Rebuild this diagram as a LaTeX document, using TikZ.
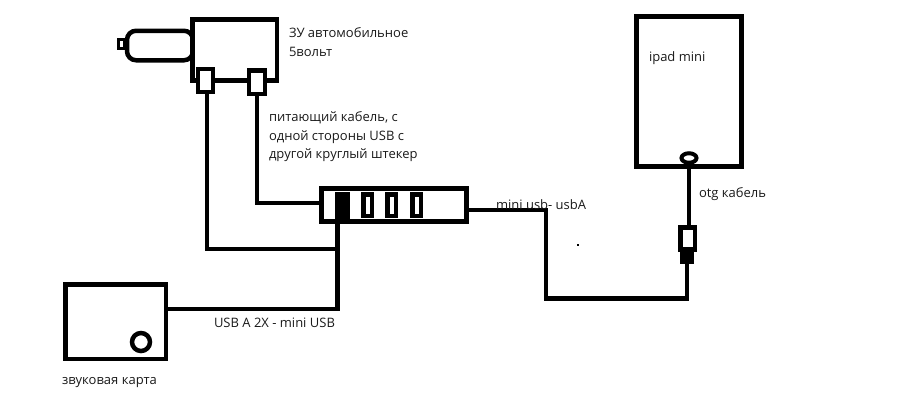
\documentclass[tikz,border=0pt]{standalone}
\usepackage{fontspec}
\usetikzlibrary{shapes.geometric}
\setmainfont{Open Sans}
\definecolor{ink}{HTML}{000000}
\definecolor{txt}{HTML}{1A1A1A}
\tikzset{
  x=1pt,y=-1pt,
  box/.style={draw=ink,line width=4.5pt,fill=white,rectangle,inner sep=0pt,outer sep=0pt},
  thinbox/.style={draw=ink,line width=4.5pt,fill=white,rectangle,inner sep=0pt,outer sep=0pt},
  cable/.style={draw=ink,line width=4.3pt,line cap=rect,line join=miter},
  label/.style={anchor=base west,inner sep=0pt,outer sep=0pt,text=txt,font=\fontsize{13pt}{15pt}\selectfont},
}
\begin{document}
\begin{tikzpicture}
\useasboundingbox (0,0) rectangle (901,400);
\fill[white] (0,0) rectangle (901,400);
% plug of the car charger
\node[thinbox,rounded corners=9pt,minimum width=66pt,minimum height=29.5pt] (plug) at (160,45.5) {};
\node[draw=ink,line width=2.6pt,fill=white,inner sep=0pt,outer sep=0pt,minimum width=6.5pt,minimum height=9pt] (tip) at (121.5,44) {};
% charger
\node[box,minimum width=84.5pt,minimum height=61pt] (charger) at (234.7,50) {};
\node[thinbox,minimum width=15pt,minimum height=23pt] (usbL) at (205.5,80.5) {};
\node[thinbox,minimum width=16pt,minimum height=23.5pt] (usbR) at (257,82) {};
% hub
\node[box,minimum width=145pt,minimum height=33pt] (hub) at (394,205) {};
\node[draw=ink,fill=ink,inner sep=0pt,outer sep=0pt,minimum width=14pt,minimum height=26pt] (p1) at (342,205) {};
\node[draw=ink,line width=4.5pt,fill=white,inner sep=0pt,outer sep=0pt,minimum width=8.5pt,minimum height=21.5pt] (p2) at (367.5,205) {};
\node[draw=ink,line width=4.5pt,fill=white,inner sep=0pt,outer sep=0pt,minimum width=8.5pt,minimum height=21.5pt] (p3) at (391.5,205) {};
\node[draw=ink,line width=4.5pt,fill=white,inner sep=0pt,outer sep=0pt,minimum width=8.5pt,minimum height=21.5pt] (p4) at (416.5,205) {};
% sound card
\node[box,minimum width=100.5pt,minimum height=74.5pt] (sound) at (115.5,321.5) {};
\node[circle,draw=ink,line width=4.5pt,fill=white,inner sep=0pt,outer sep=0pt,minimum size=18pt] (jack) at (141,342) {};
% ipad
\node[box,minimum width=105pt,minimum height=150pt] (ipad) at (689,91.5) {};
\node[ellipse,draw=ink,line width=4pt,fill=white,inner sep=0pt,outer sep=0pt,minimum width=15pt,minimum height=9.5pt] (ring) at (689,158) {};
% otg connector
\node[thinbox,minimum width=14.5pt,minimum height=22pt] (otgA) at (687.5,238.5) {};
\node[draw=ink,fill=ink,inner sep=0pt,outer sep=0pt,minimum width=13pt,minimum height=12pt] (otgB) at (687,257.5) {};
% junction points
\coordinate (hubin) at (321.5,203);
\coordinate (hubout) at (466.5,210);
\coordinate (j1) at (337.5,249);
\coordinate (j2) at (337.5,309);
\coordinate (soundout) at (168,309);
\coordinate (bend1) at (546,210);
\coordinate (bend2) at (546,298.5);
\coordinate (bend3) at (687,298.5);
% connectors
\draw[cable] ([xshift=1.5pt]usbL.south) |- (j1);
\draw[cable] (usbR.south) |- (hubin);
\draw[cable] (p1.south -| j1) -- (j2) -- (soundout);
\draw[cable] (hubout) -- (bend1) -- (bend2) -- (bend3) -- (otgB.south -| bend3);
\draw[cable] (ring.south) -- (otgA.north -| ring);
% stray dot
\fill[ink] (577,244) rectangle (579,246);
% labels
\node[label] (t1) at (289,37) {ЗУ автомобильное};
\node[label] (t2) at (289,56) {5вольт};
\node[label] (t3) at (269,121) {питающий кабель, с};
\node[label] (t4) at (269,140) {одной стороны USB с};
\node[label] (t5) at (269,158) {другой круглый штекер};
\node[label] (t6) at (496,209) {mini usb- usbA};
\node[label] (t7) at (649,61) {ipad mini};
\node[label] (t8) at (699,197) {otg кабель};
\node[label] (t9) at (214,327) {USB A 2X - mini USB};
\node[label] (t10) at (62,384) {звуковая карта};
\end{tikzpicture}
\end{document}
